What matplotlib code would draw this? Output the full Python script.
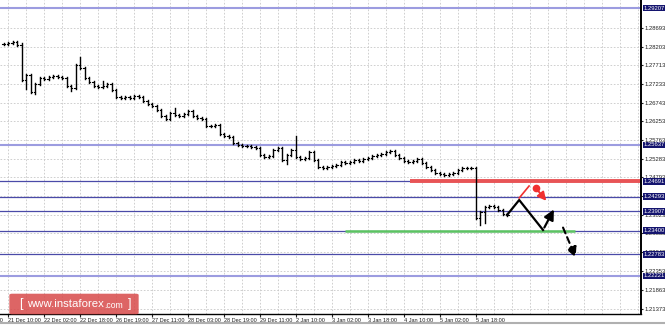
import numpy as np
import matplotlib.pyplot as plt
from matplotlib.patches import FancyBboxPatch

plt.rcParams['font.family'] = ['Liberation Sans', 'DejaVu Sans']

# 2-hour bars, index 0 = 21 Dec 10:00
closes = [1.28269, 1.28295, 1.28321, 1.28242, 1.27330, 1.27460, 1.27017, 1.27226,
          1.27382, 1.27356, 1.27408, 1.27434, 1.27408, 1.27382, 1.27174, 1.27121,
          1.27720, 1.27643, 1.27382, 1.27278, 1.27174, 1.27147, 1.27174, 1.27226,
          1.27069, 1.26887, 1.26861, 1.26887, 1.26861, 1.26913, 1.26887, 1.26782,
          1.26704, 1.26652, 1.26548, 1.26391, 1.26313, 1.26470, 1.26418, 1.26391,
          1.26444, 1.26522, 1.26391, 1.26339, 1.26313, 1.26131, 1.26131, 1.26157,
          1.25922, 1.25870, 1.25844, 1.25688, 1.25635, 1.25609, 1.25609, 1.25583,
          1.25557, 1.25375, 1.25323, 1.25349, 1.25505, 1.25557, 1.25244, 1.25375,
          1.25505, 1.25323, 1.25271, 1.25296, 1.25453, 1.25244, 1.25062, 1.25036,
          1.25062, 1.25088, 1.25114, 1.25192, 1.25166, 1.25192, 1.25244, 1.25218,
          1.25271, 1.25296, 1.25349, 1.25375, 1.25401, 1.25453, 1.25479, 1.25375,
          1.25296, 1.25218, 1.25192, 1.25218, 1.25271, 1.25166, 1.25062, 1.24984,
          1.24905, 1.24879, 1.24853, 1.24879, 1.24905, 1.24984, 1.25036, 1.25036,
          1.25036, 1.23732, 1.23889, 1.24019, 1.24045, 1.24019, 1.23941, 1.23837,
          1.23811]
first_bar = -1
wick_hi = {3: 1.28269, 16: 1.27903, 37: 1.26574, 64: 1.25844, 21: 1.27278}
wick_lo = {4: 1.27121, 6: 1.26991, 14: 1.27069, 62: 1.25166, 105: 1.23576, 106: 1.23628}

levels_dark = [1.24691, 1.24293, 1.23907, 1.23400, 1.22783]
levels_light = [1.29207, 1.25637, 1.22221]
ticks = [1.28693, 1.28203, 1.27713, 1.27233, 1.26743, 1.26253, 1.25763, 1.25283,
         1.24793, 1.24303, 1.23823, 1.23333, 1.22843, 1.22353, 1.21863, 1.21373]
date_labels = ["20 Dec 18:00", "21 Dec 10:00", "22 Dec 02:00", "22 Dec 18:00",
               "26 Dec 19:00", "27 Dec 11:00", "28 Dec 03:00", "28 Dec 19:00",
               "29 Dec 11:00", "2 Jan 10:00", "3 Jan 02:00", "3 Jan 18:00",
               "4 Jan 10:00", "5 Jan 02:00", "5 Jan 18:00"]
first_label = -8
resistance = 1.24691
support = 1.23400

# drawn forecast paths (bar index, price)
path_x = [110.9, 113.6, 118.9, 121.6]
path_y = [1.23811, 1.24202, 1.23420, 1.24020]
red_seg_x = [113.6, 115.8]
red_seg_y = [1.24254, 1.24567]
red_arrow_x = [117.3, 120.0]
red_arrow_y = [1.24515, 1.24124]
dash_arrow_x = [123.1, 126.4]
dash_arrow_y = [1.23550, 1.22638]

fig = plt.figure(figsize=(6.65, 3.25), dpi=100)
ax = fig.add_axes([0, 11 / 325, 641 / 665, 314 / 325])
ax.set_xlim(-1.78, 140.67)
ax.set_ylim(1.21230, 1.29416)

# grid
for y in ticks:
    ax.axhline(y, color="#c8c8c8", lw=0.6, ls=(0, (2, 2)), zorder=0)
for x in range(0, 141, 4):
    ax.axvline(x, color="#c8c8c8", lw=0.6, ls=(0, (2, 2)), zorder=0)

# levels
for y in levels_light:
    ax.axhline(y, color="#9c9ce0", lw=1.5, zorder=1)
for y in levels_dark:
    ax.axhline(y, color="#4a4aa8", lw=0.9, zorder=1)
ax.plot([89.3, 141], [resistance] * 2, color="#e85456", lw=2.8, zorder=2, solid_capstyle="butt")
ax.plot([74.9, 126.0], [support] * 2, color="#5cc462", lw=1.8, zorder=2, solid_capstyle="butt")

# price bars
idx = np.arange(first_bar, first_bar + len(closes))
prev = closes[0]
for i, c in zip(idx, closes):
    o = prev
    hi = max(o, c, wick_hi.get(i, 0)) + 0.0002
    lo = min(o, c, wick_lo.get(i, 9)) - 0.0002
    ax.plot([i, i], [lo, hi], color="black", lw=1.0, zorder=3)
    ax.plot([i - 0.3, i], [o, o], color="black", lw=0.8, zorder=3)
    ax.plot([i, i + 0.3], [c, c], color="black", lw=0.8, zorder=3)
    prev = c

# forecast drawing
ax.plot(path_x[:3], path_y[:3], color="black", lw=1.6, zorder=4)
ax.annotate("", xy=(path_x[3], path_y[3]), xytext=(path_x[2], path_y[2]),
            arrowprops=dict(arrowstyle="-|>,head_length=0.6,head_width=0.3", color="black", lw=1.6),
            zorder=4)
ax.plot(red_seg_x, red_seg_y, color="#f03030", lw=1.2, zorder=4)
ax.plot(red_arrow_x[0], red_arrow_y[0], "o", color="#f03030", ms=4.5, zorder=4)
ax.annotate("", xy=(red_arrow_x[1], red_arrow_y[1]), xytext=(red_arrow_x[0], red_arrow_y[0]),
            arrowprops=dict(arrowstyle="-|>,head_length=0.5,head_width=0.25", color="#f03030", lw=1.4),
            zorder=4)
ax.annotate("", xy=(dash_arrow_x[1], dash_arrow_y[1]), xytext=(dash_arrow_x[0], dash_arrow_y[0]),
            arrowprops=dict(arrowstyle="-|>,head_length=0.6,head_width=0.3", color="black", lw=1.5,
                            ls=(0, (3, 2))), zorder=4)

# axes
for s in ["left", "top"]:
    ax.spines[s].set_visible(False)
ax.spines["right"].set_linewidth(1.4)
ax.spines["bottom"].set_linewidth(1.0)
ax.yaxis.tick_right()
ax.set_yticks(ticks)
ax.set_yticklabels([f"{t:.5f}" for t in ticks])
ax.tick_params(axis="y", labelsize=4.2, length=1.5, pad=1, colors="#222222")
xt = list(range(first_label + 8, first_label + 8 * len(date_labels), 8))
ax.set_xticks(xt)
ax.set_xticklabels(date_labels[1:], ha="left")
ax.tick_params(axis="x", labelsize=4.0, length=2, pad=1.2, colors="#222222")
ax.text(-1.1, -0.012, date_labels[0], transform=ax.get_xaxis_transform(),
        fontsize=4.0, color="#222222", ha="right", va="top", clip_on=False)

for y in levels_light + levels_dark:
    ax.text(1.0045, y, f"{y:.5f}", transform=ax.get_yaxis_transform(), fontsize=4.2,
            color="white", va="center", ha="left", zorder=6,
            bbox=dict(boxstyle="square,pad=0.15", fc="#14146e", ec="none"))

# watermark
wm = FancyBboxPatch((12 / 665, 12 / 325), 124 / 665, 18 / 325,
                    boxstyle="round,pad=0.004", transform=fig.transFigure,
                    fc="#d84a4a", ec="none", alpha=0.85, zorder=10)
fig.patches.append(wm)
fig.text(21 / 665, 21 / 325, "[", color="white", fontsize=9, ha="center", va="center", zorder=11)
t1 = fig.text(27 / 665, 21 / 325, "www.instaforex", color="white", fontsize=8.2,
              ha="left", va="center", zorder=11)
fig.text(130 / 665, 21 / 325, "]", color="white", fontsize=9, ha="center", va="center", zorder=11)
r = fig.canvas.get_renderer()
x_end = t1.get_window_extent(r).x1 / fig.bbox.width
fig.text(x_end, 20 / 325, ".com", color="white", fontsize=6.2, ha="left", va="center", zorder=11)

fig.add_artist(plt.Line2D([0, 1], [2 / 325, 2 / 325], color="#b0b0b0", lw=1.5,
                          transform=fig.transFigure))

fig.savefig("out.png", dpi=100)
